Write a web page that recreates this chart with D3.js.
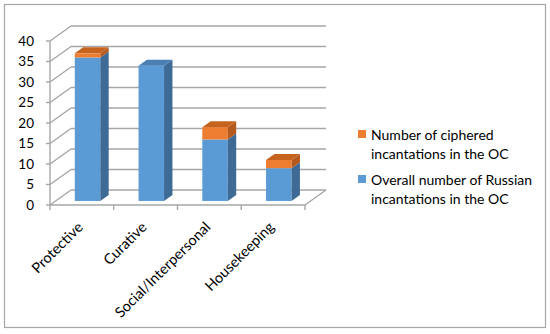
<!DOCTYPE html>
<html><head><meta charset="utf-8">
<script src="https://cdn.jsdelivr.net/npm/d3@7"></script>
<style>body{margin:0;background:#fff}svg{display:block}text{font-family:Lato,"Open Sans",sans-serif;fill:#000}</style>
</head><body><div id="c"></div>
<script>
const categories = ["Protective","Curative","Social/Interpersonal","Housekeeping"];
const russianValues = [35,33,15,8];
const cipheredValues = [1,0,3,2];
const yTicks = [0,5,10,15,20,25,30,35,40];
const seriesNames = ["Number of ciphered incantations in the OC","Overall number of Russian incantations in the OC"];
const legendLines = [["Number of ciphered","incantations in the OC"],["Overall number of Russian","incantations in the OC"]];

const W=550,H=334;
const svg=d3.select("#c").append("svg").attr("width",W).attr("height",H);
svg.append("rect").attr("x",4.5).attr("y",4.5).attr("width",541).attr("height",323)
  .attr("fill","#fff").attr("stroke","#a6a6a6").attr("stroke-width",1.2);

const x0=50,x1=305;
const depth=[21,-15];
const y=d3.scaleLinear().domain([0,40]).range([205,41]);
const xb=d3.scaleBand().domain(categories).range([x0,x1]).paddingInner(0.6).paddingOuter(0.3);
const grid="#a6a6a6";
const g=svg.append("g");
// back wall gridlines
g.selectAll(".bw").data(yTicks).join("line")
  .attr("x1",x0+depth[0]).attr("x2",x1+depth[0])
  .attr("y1",d=>y(d)+depth[1]).attr("y2",d=>y(d)+depth[1])
  .attr("stroke",grid).attr("stroke-width",1.4);
// side wall gridlines
g.selectAll(".sw").data(yTicks).join("line")
  .attr("x1",x0).attr("x2",x0+depth[0])
  .attr("y1",d=>y(d)).attr("y2",d=>y(d)+depth[1])
  .attr("stroke",grid).attr("stroke-width",1.4);
// floor
g.append("line").attr("x1",x0).attr("x2",x1).attr("y1",y(0)).attr("y2",y(0)).attr("stroke",grid).attr("stroke-width",1.4);
g.append("line").attr("x1",x1).attr("x2",x1+depth[0]).attr("y1",y(0)).attr("y2",y(0)+depth[1]).attr("stroke",grid).attr("stroke-width",1.4);
// vertical axis line
g.append("line").attr("x1",x0).attr("x2",x0).attr("y1",y(0)).attr("y2",y(40)).attr("stroke",grid).attr("stroke-width",1.4);
// y ticks
g.selectAll(".yt").data(yTicks).join("line").attr("x1",x0-4).attr("x2",x0).attr("y1",d=>y(d)).attr("y2",d=>y(d)).attr("stroke",grid).attr("stroke-width",1.4);
g.selectAll(".yl").data(yTicks).join("text").attr("x",34).attr("y",d=>y(d)).attr("dy","0.35em")
  .attr("text-anchor","end").attr("font-size",13.5).text(d=>d);
// x ticks at band boundaries
const bounds=categories.map((c,i)=>x0+i*xb.step());
bounds.push(x1);
g.selectAll(".xt").data(bounds).join("line").attr("x1",d=>d).attr("x2",d=>d).attr("y1",y(0)).attr("y2",y(0)+5).attr("stroke",grid).attr("stroke-width",1.4);
// x labels
g.selectAll(".xl").data(categories).join("text")
  .attr("transform",d=>`translate(${xb(d)+xb.bandwidth()/2+2},${y(0)+23}) rotate(-45)`)
  .attr("text-anchor","end").attr("font-size",14.5).text(d=>d);

// bars
const f=0.27, fd=0.4;
const off=[depth[0]*f,depth[1]*f], dd=[depth[0]*fd,depth[1]*fd];
const colors={blue:{front:"#5b9bd5",side:"#3d6b96",top:"#4a80b4"},orange:{front:"#ed7d31",side:"#b5591c",top:"#c6631f"}};
function drawBox(xl,w,v0,v1,col,drawTop){
  const xa=xl+off[0], xr=xa+w, yt=y(v1)+off[1], yb=y(v0)+off[1];
  g.append("rect").attr("x",xa).attr("y",yt).attr("width",w).attr("height",yb-yt).attr("fill",col.front);
  g.append("path").attr("d",`M${xr},${yt}L${xr+dd[0]},${yt+dd[1]}L${xr+dd[0]},${yb+dd[1]}L${xr},${yb}Z`).attr("fill",col.side);
  if(drawTop) g.append("path").attr("d",`M${xa},${yt}L${xa+dd[0]},${yt+dd[1]}L${xr+dd[0]},${yt+dd[1]}L${xr},${yt}Z`).attr("fill",col.top);
}
categories.forEach((c,i)=>{
  const xl=xb(c), w=xb.bandwidth();
  const r=russianValues[i], o=cipheredValues[i];
  drawBox(xl,w,0,r,colors.blue,o===0);
  if(o>0) drawBox(xl,w,r,r+o,colors.orange,true);
});

// legend
const leg=svg.append("g");
const legColors=[colors.orange.front,colors.blue.front];
const legY=[130,175];
legendLines.forEach((lines,i)=>{
  leg.append("rect").attr("x",358).attr("y",legY[i]).attr("width",8).attr("height",8).attr("fill",legColors[i]);
  lines.forEach((t,j)=>{
    leg.append("text").attr("x",371).attr("y",legY[i]+10+j*18.5).attr("font-size",14).text(t);
  });
});
</script></body></html>
